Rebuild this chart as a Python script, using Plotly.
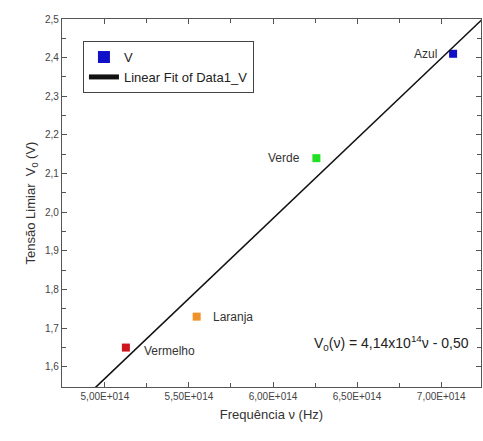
import plotly.graph_objects as go
import numpy as np

# Data
colors_names = ["Vermelho", "Laranja", "Verde", "Azul"]
freq = [5.125e14, 5.546e14, 6.258e14, 7.071e14]
voltage = [1.65, 1.73, 2.14, 2.41]
marker_colors = ["#d0141e", "#f0922a", "#22e022", "#1010c8"]
fit_slope = 4.14e-15
fit_intercept = -0.50
x_tickvals = [5.0e14, 5.5e14, 6.0e14, 6.5e14, 7.0e14]
x_ticktext = ["5,00E+014", "5,50E+014", "6,00E+014", "6,50E+014", "7,00E+014"]
y_tickvals = [1.6, 1.7, 1.8, 1.9, 2.0, 2.1, 2.2, 2.3, 2.4, 2.5]

font_family = "Liberation Sans, Arial, sans-serif"

fig = go.Figure()

xfit = np.array([4.745e14, 7.26e14])
yfit = fit_slope * xfit + fit_intercept

fig.add_trace(go.Scatter(
    x=freq, y=voltage, mode="markers", name="V",
    marker=dict(symbol="square", size=8, color=marker_colors, line=dict(width=0)),
    showlegend=False, cliponaxis=False,
))
# legend stand-in for V (blue square)
fig.add_trace(go.Scatter(
    x=[None], y=[None], mode="markers", name="V",
    marker=dict(symbol="square", size=6, color="#1010c8"),
))
fig.add_trace(go.Scatter(
    x=xfit, y=yfit, mode="lines", name="Linear Fit of Data1_V",
    line=dict(color="#111111", width=1.6),
))

label_pos = {"Vermelho": ("left", 16), "Laranja": ("left", 14), "Verde": ("right", -14), "Azul": ("right", -14)}
for name, x, y in zip(colors_names, freq, voltage):
    anchor, shift = label_pos[name]
    fig.add_annotation(x=x, y=y, text=name, showarrow=False, xanchor=anchor,
                       xshift=shift, yshift=(-3 if name == "Vermelho" else 0),
                       font=dict(family=font_family, size=12, color="#333333"))

fig.add_annotation(x=0.975, y=0.12, xref="paper", yref="paper", xanchor="right", yanchor="middle",
                   text="V<sub>0</sub>(ν) = 4,14x10<sup>14</sup>ν - 0,50", showarrow=False,
                   font=dict(family=font_family, size=14, color="#222222"))

axis_common = dict(
    showline=True, linecolor="#555555", linewidth=1.3, mirror="ticks",
    ticks="inside", ticklen=5, tickcolor="#555555", showgrid=False, zeroline=False,
    tickfont=dict(family=font_family, size=10, color="#444444"),
)

fig.update_xaxes(
    range=[4.745e14, 7.237e14], tickvals=x_tickvals, ticktext=x_ticktext,
    minor=dict(ticks="inside", ticklen=4, tickcolor="#555555", dtick=0.25e14, tick0=0),
    title=dict(text="Frequência ν (Hz)", font=dict(family=font_family, size=13, color="#333333"), standoff=8),
    **axis_common,
)
fig.update_yaxes(
    range=[1.548, 2.5], tickvals=y_tickvals, tickformat=".1f",
    minor=dict(ticks="inside", ticklen=4, tickcolor="#555555", dtick=0.05, tick0=0),
    title=dict(text="Tensão Limiar  V<sub>0</sub> (V)", font=dict(family=font_family, size=13, color="#333333"), standoff=6),
    **axis_common,
)

fig.update_layout(
    width=483, height=441,
    margin=dict(l=62, r=2, t=19, b=54),
    paper_bgcolor="white", plot_bgcolor="white",
    separators=",.",
    legend=dict(x=0.05, y=0.94, xanchor="left", yanchor="top",
                bordercolor="#444444", borderwidth=1, bgcolor="white",
                font=dict(family=font_family, size=13, color="#222222"),
                tracegroupgap=0, itemsizing="constant"),
)

fig.write_html("out.html", config={"displayModeBar": False},
               post_script="document.body.style.margin='0';document.body.style.overflow='hidden';")
